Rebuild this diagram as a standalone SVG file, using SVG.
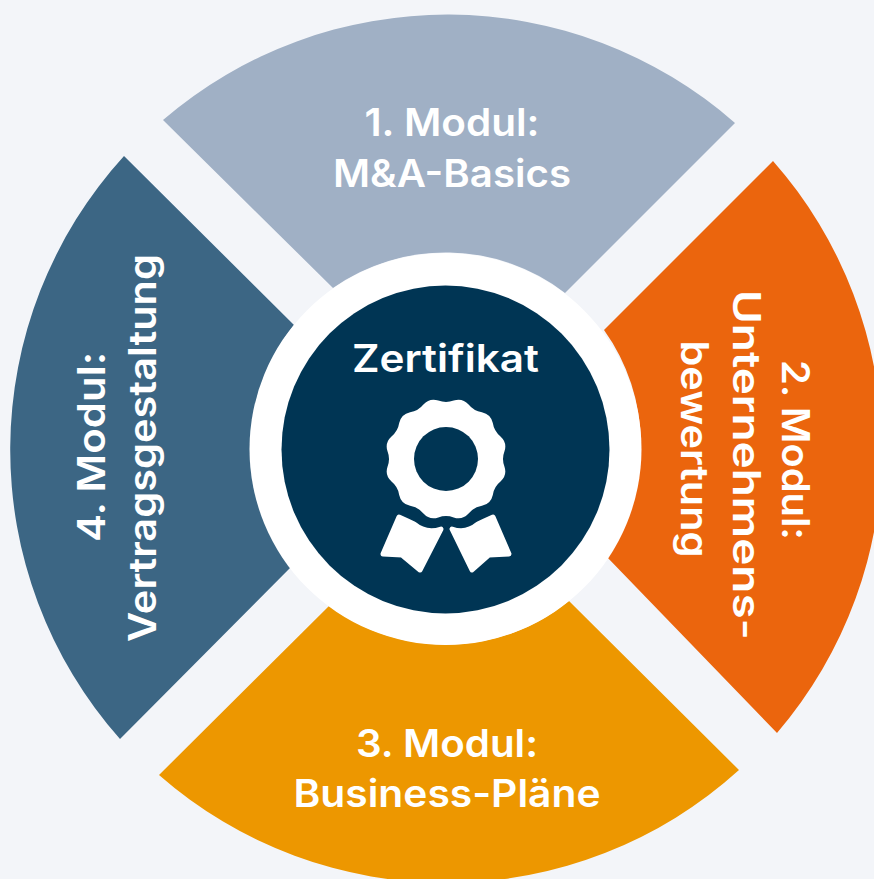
<svg xmlns="http://www.w3.org/2000/svg" width="874" height="879" viewBox="0 0 874 879">
<style>
text{font-family:"Inter","Lato","Noto Sans",sans-serif;font-weight:600;fill:#fff;text-anchor:middle;font-size:38px}
</style>
<rect width="874" height="879" fill="#f3f5f9"/>
<g id="modul-1"><path d="M163 120A436 436 0 0 1 735 123L565 293A196 196 0 0 0 333 288Z" fill="#a0b0c5"/>
<text x="452" y="136" textLength="175" lengthAdjust="spacingAndGlyphs">1. Modul:</text><text x="452" y="187" textLength="238" lengthAdjust="spacingAndGlyphs">M&amp;A-Basics</text></g>
<g id="modul-2"><path d="M773 161A436 436 0 0 1 777 733L606 556A196 196 0 0 0 604 330Z" fill="#eb650d"/>
<text transform="translate(782 450) rotate(90)" textLength="180" lengthAdjust="spacingAndGlyphs">2. Modul:</text><text transform="translate(733 465) rotate(90)" textLength="350" lengthAdjust="spacingAndGlyphs">Unternehmens-</text><text transform="translate(681 449) rotate(90)" textLength="217" lengthAdjust="spacingAndGlyphs">bewertung</text></g>
<g id="modul-3"><path d="M739 770A436 436 0 0 1 159 775L329 606A196 196 0 0 0 569 601Z" fill="#ed9700"/>
<text x="447" y="757" textLength="182" lengthAdjust="spacingAndGlyphs">3. Modul:</text><text x="447" y="807" textLength="307" lengthAdjust="spacingAndGlyphs">Business-Pläne</text></g>
<g id="modul-4"><path d="M120 739A436 436 0 0 1 124 156L294 325A196 196 0 0 0 291 567Z" fill="#3c6684"/>
<text transform="translate(105 447) rotate(-90)" textLength="190" lengthAdjust="spacingAndGlyphs">4. Modul:</text><text transform="translate(156 448) rotate(-90)" textLength="388" lengthAdjust="spacingAndGlyphs">Vertragsgestaltung</text></g>
<g id="zertifikat">
<circle cx="445.500" cy="449" r="196" fill="#fff"/>
<circle cx="445.500" cy="449.500" r="164" fill="#003554"/>
<text x="445.500" y="372" textLength="187" lengthAdjust="spacingAndGlyphs">Zertifikat</text>
<g transform="translate(446 459)">
<path fill="#fff" d="M-7.7-58.49Q0-55.500 7.700-58.490Q16.430-61.340 22.580-54.510Q27.750-48.060 35.920-46.810Q44.900-44.900 46.810-35.920Q48.060-27.750 54.510-22.580Q61.340-16.430 58.49-7.700Q55.500 0 58.49 7.700Q61.340 16.430 54.510 22.580Q48.060 27.750 46.810 35.920Q44.900 44.900 35.920 46.810Q27.750 48.060 22.580 54.510Q16.430 61.340 7.700 58.490Q0 55.500-7.700 58.490Q-16.430 61.340-22.580 54.510Q-27.750 48.060-35.920 46.810Q-44.900 44.900-46.810 35.920Q-48.060 27.750-54.510 22.580Q-61.340 16.430-58.49 7.700Q-55.500 0-58.49-7.700Q-61.340-16.430-54.510-22.580Q-48.060-27.750-46.810-35.920Q-44.900-44.900-35.920-46.810Q-27.750-48.060-22.580-54.510Q-16.430-61.340-7.700-58.490Z"/>
<circle r="32" fill="#003554"/>
<path fill="#fff" stroke="#fff" stroke-width="5" stroke-linejoin="round" d="M-47 58Q-38 62-32 65Q-20 75-5 70L-26 111L-44 96L-63 95Z"/>
<path fill="#fff" stroke="#fff" stroke-width="5" stroke-linejoin="round" d="M47 58Q38 62 32 65Q20 75 6 70L26 111L43 96L63 95Z"/>
</g>
</g>
</svg>
